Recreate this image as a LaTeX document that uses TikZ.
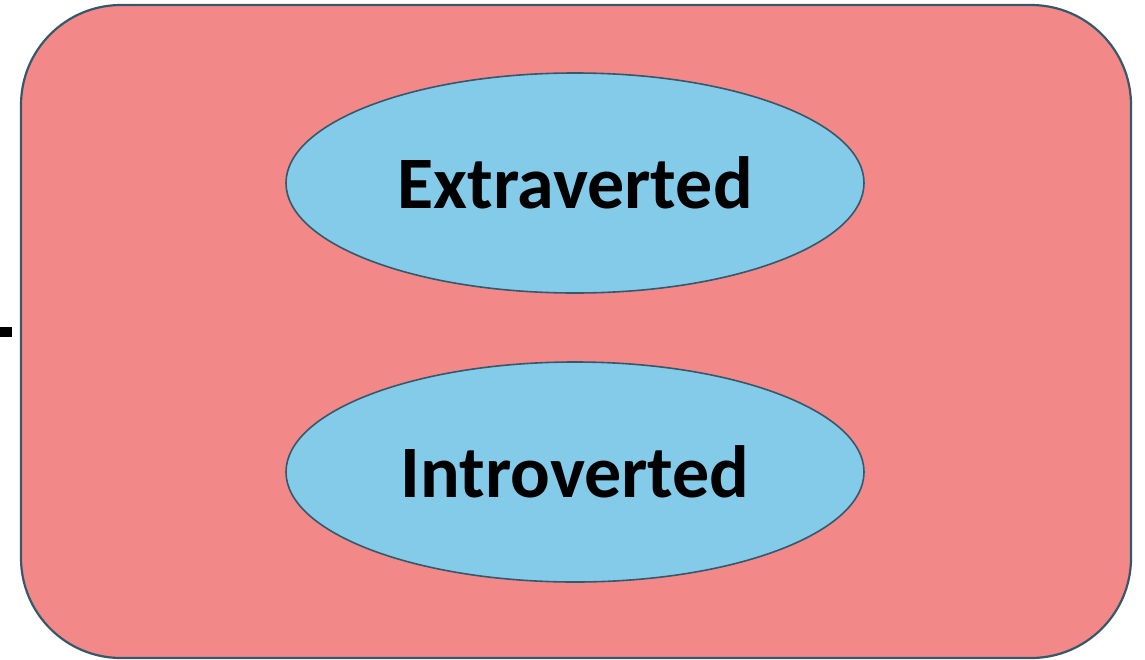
\documentclass[tikz,border=0pt]{standalone}
\usepackage{fontspec}
\setmainfont{Carlito}
\usetikzlibrary{shapes.geometric}
\definecolor{boxfill}{HTML}{F28888}
\definecolor{ellfill}{HTML}{84CBE9}
\definecolor{edge}{HTML}{35596A}
\tikzset{
  outerbox/.style={draw=edge, line width=2.2pt, fill=boxfill, rounded corners=100pt},
  trait/.style={ellipse, draw=edge, line width=1.6pt, fill=ellfill, minimum width=578pt, minimum height=220pt, inner sep=0pt, font=\fontsize{74}{84}\selectfont\bfseries},
  stub/.style={line width=10pt, black}
}
\begin{document}
\begin{tikzpicture}[x=1pt,y=-1pt]
\useasboundingbox (0,0) rectangle (1145,659);
\draw[outerbox] (21,5) rectangle (1131,658);
\node[trait] (extra) at (575,183) {Extraverted};
\node[trait] (intro) at (575,472) {Introverted};
\coordinate (s1) at (0,332);
\coordinate (s2) at (12,332);
\draw[stub] (s1) -- (s2);
\end{tikzpicture}
\end{document}
